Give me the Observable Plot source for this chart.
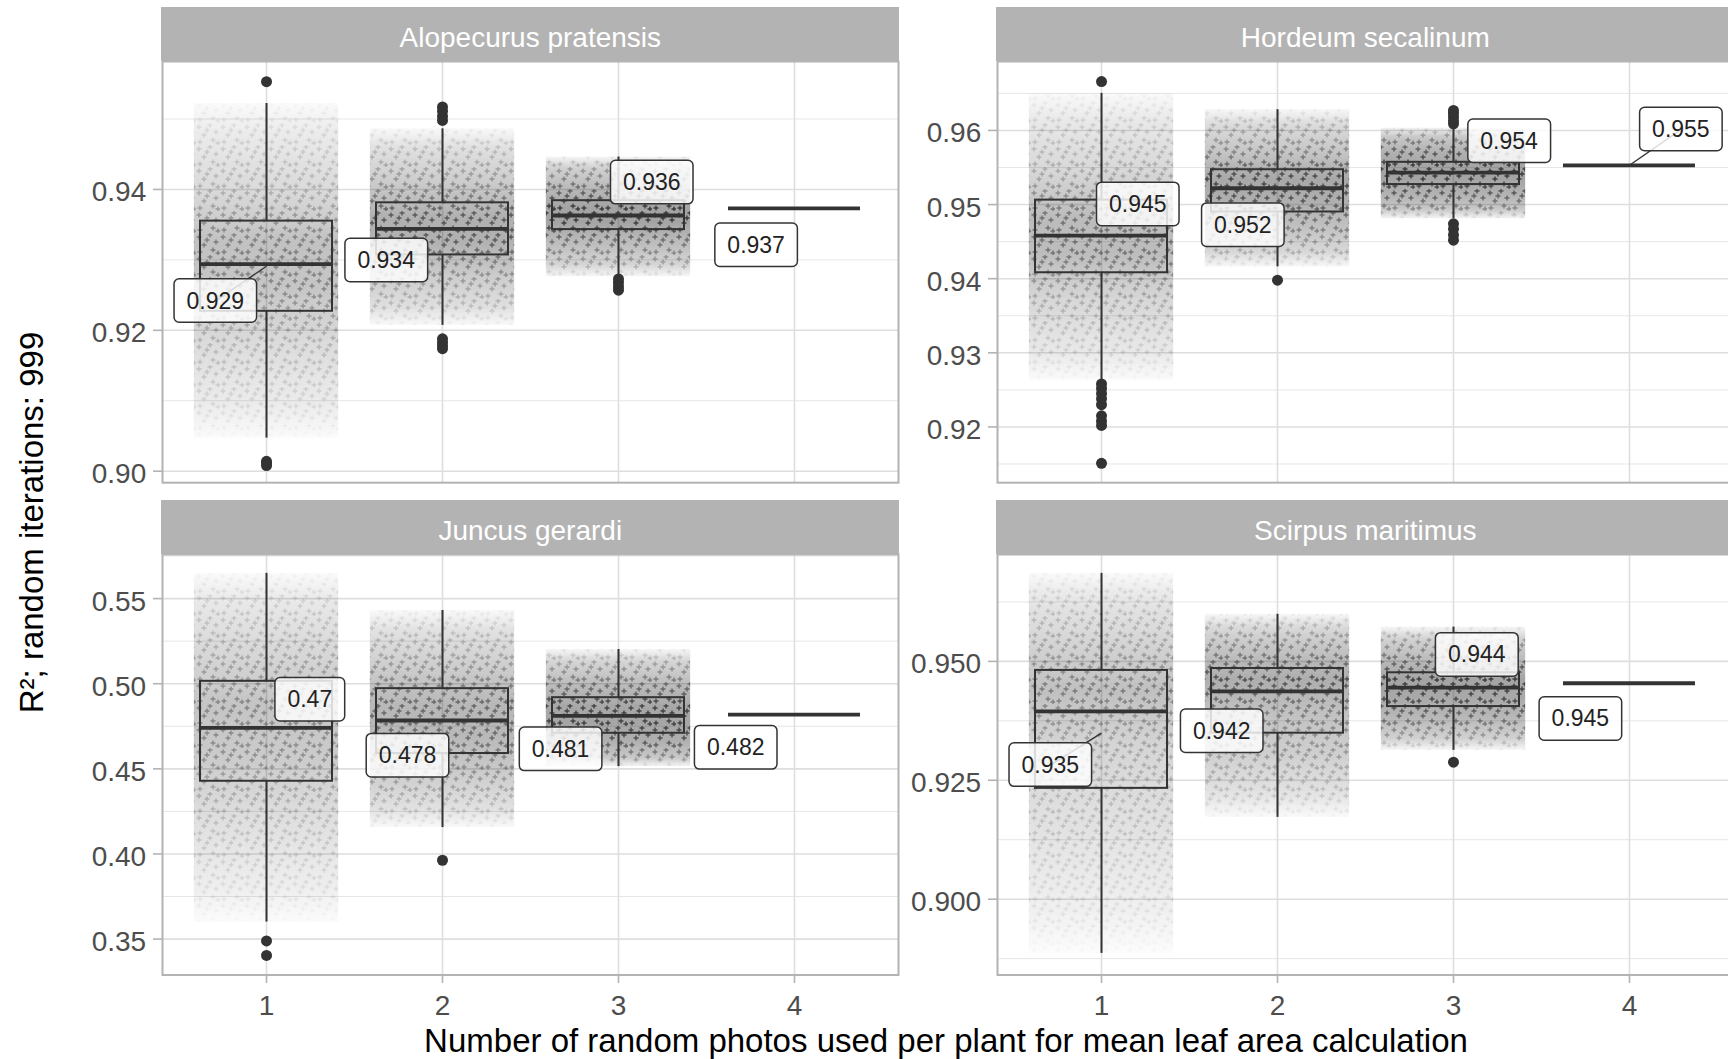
<!DOCTYPE html>
<html>
<head>
<meta charset="utf-8">
<script src="https://cdn.jsdelivr.net/npm/d3@7"></script>
<script src="https://cdn.jsdelivr.net/npm/@observablehq/plot@0.6"></script>
<style>
html, body { margin: 0; padding: 0; background: #fff; width: 1728px; height: 1059px; overflow: hidden; }
#root { position: relative; width: 1728px; height: 1059px; overflow: hidden; font-family: "Liberation Sans", Arial, sans-serif; }
.strip { position: absolute; background: #B3B3B3; color: #fff; font-size: 28px; text-align: center; box-sizing: border-box; white-space: nowrap; }
.title { position: absolute; color: #000; font-size: 33px; white-space: nowrap; text-align: center; }
svg { overflow: visible; }
</style>
</head>
<body>
<div id="root"></div>
<script>
// ---------------- data ----------------
const species = ["Alopecurus pratensis", "Hordeum secalinum", "Juncus gerardi", "Scirpus maritimus"];
const photos = [1, 2, 3, 4];

// y extent of each facet (free scales)
const yDomain = [[0.89837, 0.95816], [0.91248, 0.9693], [0.3289, 0.5759], [0.88406, 0.97247]];
const yTicksMajor = [[0.90, 0.92, 0.94], [0.92, 0.93, 0.94, 0.95, 0.96], [0.35, 0.40, 0.45, 0.50, 0.55], [0.900, 0.925, 0.950]];
const yTicksMinor = [[0.91, 0.93, 0.95], [0.915, 0.925, 0.935, 0.945, 0.955, 0.965], [0.375, 0.425, 0.475, 0.525, 0.575], [0.8875, 0.9125, 0.9375, 0.9625]];
const yTickFormat = [".2f", ".2f", ".2f", ".3f"];

// box-plot statistics per species (rows) and number of photos (columns)
const whiskerLow  = [[0.9047, 0.9207, 0.9276, 0.9373], [0.9263, 0.9416, 0.9481, 0.9553], [0.3600, 0.4155, 0.4513, 0.4818], [0.8886, 0.9172, 0.9313, 0.9454]];
const quartile1   = [[0.9227, 0.9307, 0.9343, 0.9373], [0.9408, 0.9490, 0.9527, 0.9553], [0.4427, 0.4590, 0.4709, 0.4818], [0.9233, 0.9349, 0.9405, 0.9454]];
const median      = [[0.9294, 0.9344, 0.9363, 0.9373], [0.9458, 0.9522, 0.9543, 0.9553], [0.4741, 0.4784, 0.4811, 0.4818], [0.9395, 0.9437, 0.9445, 0.9454]];
const quartile3   = [[0.9355, 0.9381, 0.9384, 0.9373], [0.9506, 0.9547, 0.9557, 0.9553], [0.5014, 0.4971, 0.4918, 0.4818], [0.9481, 0.9485, 0.9476, 0.9454]];
const whiskerHigh = [[0.9522, 0.9486, 0.9446, 0.9373], [0.9650, 0.9628, 0.9603, 0.9553], [0.5648, 0.5430, 0.5201, 0.4818], [0.9685, 0.9599, 0.9572, 0.9454]];

// mean R² (labelled values)
const meanR2 = [[0.9291, 0.9340, 0.9360, 0.9373], [0.9450, 0.9520, 0.9540, 0.9553], [0.4700, 0.4780, 0.4810, 0.4818], [0.9349, 0.9420, 0.9440, 0.9454]];
// repelled label positions (data units) and whether a leader segment is shown
const labelX = [[0.709, 1.680, 3.189, 3.782], [1.206, 1.803, 3.316, 4.292], [1.246, 1.801, 2.671, 3.666], [0.709, 1.683, 3.132, 3.721]];
const labelY = [[0.92414, 0.92989, 0.94095, 0.93206], [0.9500, 0.9472, 0.95852, 0.9601], [0.49052, 0.45767, 0.46137, 0.46225], [0.92817, 0.93528, 0.95133, 0.93786]];
const labelLeader = [[true, false, false, false], [false, false, false, true], [false, false, false, false], [true, false, false, false]];

// outliers: [photos, R²]
const outliersAlopecurus = [[1, 0.9553], [1, 0.9014], [1, 0.9011], [1, 0.9008], [2, 0.9517], [2, 0.9511], [2, 0.9504], [2, 0.9498], [2, 0.9188], [2, 0.9183], [2, 0.9178], [2, 0.9174], [3, 0.9273], [3, 0.9268], [3, 0.9262], [3, 0.9257]];
const outliersHordeum = [[1, 0.9666], [1, 0.9258], [1, 0.9252], [1, 0.9245], [1, 0.9238], [1, 0.9230], [1, 0.9215], [1, 0.9208], [1, 0.9202], [1, 0.9151], [2, 0.9398], [3, 0.9627], [3, 0.9623], [3, 0.9618], [3, 0.9613], [3, 0.9609], [3, 0.9474], [3, 0.9467], [3, 0.9459], [3, 0.9452]];
const outliersJuncus = [[1, 0.3489], [1, 0.3404], [2, 0.3963]];
const outliersScirpus = [[3, 0.9288]];
const outlierLists = [outliersAlopecurus, outliersHordeum, outliersJuncus, outliersScirpus];

const iterations = 999;
const xTitle = "Number of random photos used per plant for mean leaf area calculation";
const yTitle = "R\u00B2; random iterations: 999";

// ---------------- layout ----------------
const NS = "http://www.w3.org/2000/svg";
const root = document.getElementById("root");
const FONT = '"Liberation Sans", Arial, sans-serif';
const colLeft = [162.3, 997.3];
const stripTop = [7.3, 499.5];
const stripH = 54;
const panelTop = [61.3, 553.5];
const panelH = [421.2, 420.5];
const panelW = 736;
const xDomain = [0.409, 4.591];

const fmtMean = v => String(Math.round(v * 1000) / 1000);

function el(name, attrs, parent) {
  const e = document.createElementNS(NS, name);
  for (const k in attrs) e.setAttribute(k, attrs[k]);
  if (parent) parent.appendChild(e);
  return e;
}

function addLabelBoxes(svg) {
  const groups = svg.querySelectorAll('g[aria-label="text"]');
  const g = groups[groups.length - 1];
  if (!g) return;
  for (const t of Array.from(g.querySelectorAll("text"))) {
    const bb = t.getBBox();
    const padX = 12.5, H = 43.5;
    const r = el("rect", {
      x: bb.x - padX, y: bb.y + bb.height / 2 - H / 2, width: bb.width + 2 * padX, height: H,
      rx: 5, fill: "#fff", "fill-opacity": 0.82, stroke: "#333", "stroke-width": 1.5
    });
    const tr = t.getAttribute("transform");
    if (tr) r.setAttribute("transform", tr);
    g.insertBefore(r, t);
  }
}

function drawPanel(s) {
  const col = s % 2, row = Math.floor(s / 2);
  const left = colLeft[col], top = panelTop[row], h = panelH[row];
  const ML = 110, MR = 4, MT = 4, MB = row ? 70 : 4;
  const W = ML + panelW + MR, H = MT + h + MB;
  const dom = yDomain[s];
  const ppu = h / (dom[1] - dom[0]);

  const boxes = photos.map((x, p) => ({
    x, wlo: whiskerLow[s][p], q1: quartile1[s][p], med: median[s][p], q3: quartile3[s][p], whi: whiskerHigh[s][p]
  }));

  // shading that stands in for the 999 jittered iteration points of each box
  const clouds = [];
  boxes.forEach((b, i) => {
    if (b.whi - b.wlo < 1e-6) return;
    const segs = [
      [b.q3 + (b.whi - b.q3) / 2, b.whi, 0.08], [b.q3, b.q3 + (b.whi - b.q3) / 2, 0.17],
      [b.med, b.q3, 0.25], [b.q1, b.med, 0.25],
      [b.q1 - (b.q1 - b.wlo) / 2, b.q1, 0.17], [b.wlo, b.q1 - (b.q1 - b.wlo) / 2, 0.08]
    ];
    const stops = segs.map(([y1, y2, f]) => {
      const hp = Math.max(2, (y2 - y1) * ppu);
      const c = iterations * f * 24 / (hp * 141);
      return {off: (b.whi - (y1 + y2) / 2) / (b.whi - b.wlo), op: Math.min(0.94, 1 - Math.exp(-c))};
    });
    stops.unshift({off: 0, op: stops[0].op * 0.2});
    stops.push({off: 1, op: stops[stops.length - 1].op * 0.2});
    clouds.push({x: b.x, y1: b.wlo, y2: b.whi, id: `cg${s}_${i}`, stops});
  });

  const outs = outlierLists[s].map(([x, y]) => ({x, y}));
  const labels = photos.map((x, p) => ({
    lx: labelX[s][p], ly: labelY[s][p], text: fmtMean(meanR2[s][p]), px: x, py: meanR2[s][p], leader: labelLeader[s][p]
  }));

  const tickFmt = d3.format(yTickFormat[s]);
  const marks = [
    Plot.gridY({ticks: yTicksMinor[s], stroke: "#E6E6E6", strokeOpacity: 1, strokeWidth: 1}),
    Plot.gridY({ticks: yTicksMajor[s], stroke: "#DEDEDE", strokeOpacity: 1, strokeWidth: 1.6}),
    Plot.gridX({ticks: photos, stroke: "#DEDEDE", strokeOpacity: 1, strokeWidth: 1.6}),
    ...clouds.map(d => Plot.rect([d], {x1: d => d.x - 0.41, x2: d => d.x + 0.41, y1: "y1", y2: "y2", fill: `url(#${d.id})`})),
    Plot.rect(boxes, {x1: d => d.x - 0.375, x2: d => d.x + 0.375, y1: "q1", y2: "q3", fill: "none", stroke: "#333", strokeWidth: 2}),
    Plot.ruleX(boxes, {x: "x", y1: "q3", y2: "whi", stroke: "#333", strokeWidth: 2}),
    Plot.ruleX(boxes, {x: "x", y1: "wlo", y2: "q1", stroke: "#333", strokeWidth: 2}),
    Plot.ruleY(boxes, {y: "med", x1: d => d.x - 0.375, x2: d => d.x + 0.375, stroke: "#333", strokeWidth: 3.8}),
    Plot.dot(outs, {x: "x", y: "y", r: 5.5, fill: "#333", stroke: null}),
    Plot.link(labels.filter(d => d.leader), {x1: "lx", y1: "ly", x2: "px", y2: "py", stroke: "#333", strokeWidth: 1.4}),
    Plot.axisY({ticks: yTicksMajor[s], tickSize: 9, tickFormat: tickFmt, stroke: "#B3B3B3", strokeWidth: 1.6, fill: "none"}),
    Plot.axisY({ticks: yTicksMajor[s], tickSize: 9, tickPadding: 7.3, tickFormat: tickFmt,
      stroke: "none", fill: "#4D4D4D", fontSize: 28, dy: 3}),
    ...(row ? [Plot.axisX({ticks: photos, tickSize: 8.5, tickPadding: 11.5, tickFormat: d => String(d),
      stroke: "#B3B3B3", strokeWidth: 1.6, fill: "#4D4D4D", fontSize: 28})] : []),
    Plot.text(labels, {x: "lx", y: "ly", text: "text", fontSize: 23, fill: "#222"}),
    Plot.frame({stroke: "#B3B3B3", strokeWidth: 2})
  ];

  const svg = Plot.plot({
    width: W, height: H,
    marginLeft: ML, marginRight: MR, marginTop: MT, marginBottom: MB,
    x: {type: "linear", domain: xDomain, ...(row ? {} : {axis: null})},
    y: {type: "linear", domain: dom},
    style: {fontFamily: FONT, fontSize: "28px", background: "transparent", overflow: "visible"},
    marks
  });
  svg.style.position = "absolute";
  svg.style.left = (left - ML) + "px";
  svg.style.top = (top - MT) + "px";
  root.appendChild(svg);

  // gradient + point-like texture for the shading
  const defs = el("defs", {});
  svg.insertBefore(defs, svg.firstChild);
  for (const c of clouds) {
    const lg = el("linearGradient", {id: c.id, x1: 0, y1: 0, x2: 0, y2: 1}, defs);
    for (const st of c.stops) el("stop", {offset: st.off, "stop-color": "#2e2e2e", "stop-opacity": st.op.toFixed(3)}, lg);
  }
  const pat = el("pattern", {id: `tex${s}`, width: 24, height: 22, patternUnits: "userSpaceOnUse"}, defs);
  el("rect", {width: 24, height: 22, fill: "rgb(118,118,118)"}, pat);
  const pts = [[3, 4], [14, 2], [20, 9], [8, 12], [17, 17], [4, 19], [11, 7], [22, 20]];
  el("path", {
    d: pts.map(([px, py]) => `M${px - 2.5},${py}h5M${px},${py - 2.5}v5`).join(""),
    stroke: "#fff", "stroke-width": 1.4, fill: "none"
  }, pat);
  const mask = el("mask", {id: `mask${s}`, maskUnits: "userSpaceOnUse", x: 0, y: 0, width: W, height: H}, defs);
  el("rect", {x: 0, y: 0, width: W, height: H, fill: `url(#tex${s})`}, mask);
  for (const r of Array.from(svg.querySelectorAll("rect"))) {
    const f = r.getAttribute("fill") || (r.parentNode.getAttribute && r.parentNode.getAttribute("fill")) || "";
    if (f.indexOf("url(#cg") === 0) r.setAttribute("mask", `url(#mask${s})`);
  }

  addLabelBoxes(svg);

  const strip = document.createElement("div");
  strip.className = "strip";
  strip.style.left = (left - 1) + "px";
  strip.style.top = stripTop[row] + "px";
  strip.style.width = (panelW + 2) + "px";
  strip.style.height = stripH + "px";
  strip.style.lineHeight = (stripH - 7) + "px";
  strip.style.paddingTop = "7px";
  strip.textContent = species[s];
  root.appendChild(strip);
}

species.forEach((_, s) => drawPanel(s));

// axis titles
const xt = document.createElement("div");
xt.className = "title";
xt.style.left = (946 - 800) + "px";
xt.style.width = "1600px";
xt.style.top = "1024px";
xt.style.lineHeight = "33px";
xt.textContent = xTitle;
root.appendChild(xt);

const yt = document.createElement("div");
yt.className = "title";
yt.style.width = "600px";
yt.style.height = "33px";
yt.style.lineHeight = "33px";
yt.style.left = (31 - 300) + "px";
yt.style.top = (522 - 16.5) + "px";
yt.style.transform = "rotate(-90deg)";
yt.textContent = yTitle;
root.appendChild(yt);
</script>
</body>
</html>
